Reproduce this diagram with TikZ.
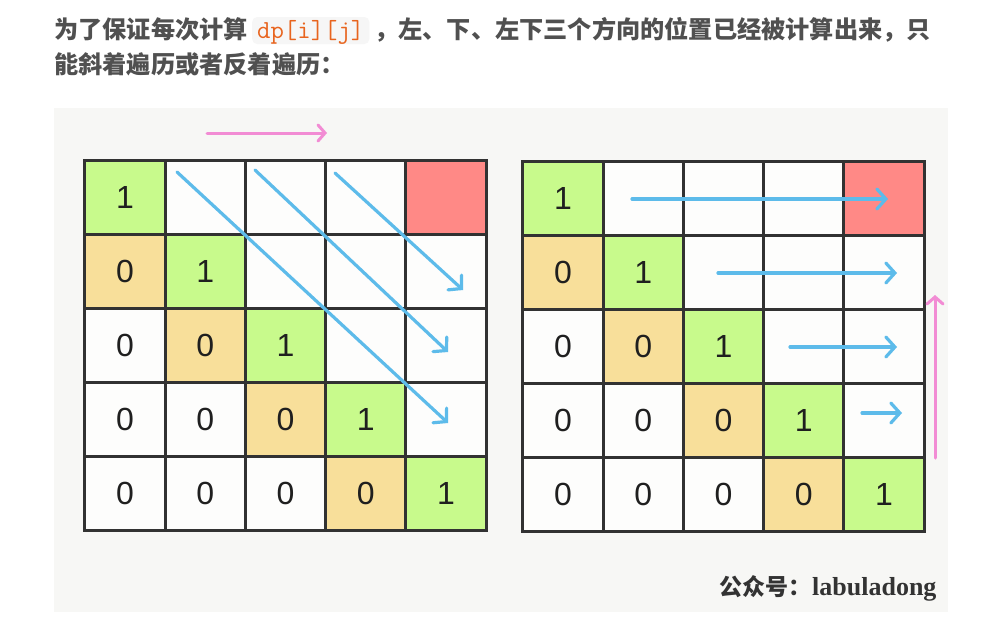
\documentclass[tikz,border=0pt]{standalone}
\usepackage{fontspec}
\setmainfont{Liberation Sans}
\newfontfamily\cjk{Noto Sans CJK SC}
\newfontfamily\serifb{Liberation Serif}
\usetikzlibrary{arrows.meta}
\definecolor{cgreen}{RGB}{200,250,140}
\definecolor{corange}{RGB}{248,223,154}
\definecolor{cred}{RGB}{255,137,134}
\definecolor{cblue}{RGB}{93,187,234}
\definecolor{cpink}{RGB}{242,140,212}
\definecolor{cbg}{RGB}{247,247,245}
\definecolor{cgrid}{RGB}{50,50,50}
\definecolor{ctext}{RGB}{80,80,80}
\definecolor{ccode}{RGB}{232,100,30}
\definecolor{ccodebg}{RGB}{246,246,246}
\definecolor{cwhite}{RGB}{253,253,252}
\tikzset{
  cell/.style={rectangle, minimum width=80.2pt, minimum height=73.8pt, inner sep=0pt,
    font=\fontsize{32}{32}\selectfont, text=black!88},
  gridline/.style={draw=cgrid, line width=2.8pt},
  bluearrow/.style={draw=cblue, line width=3.2pt, line cap=round,
    -{Straight Barb[length=9pt,width=20pt,line cap=round]}},
  pinkarrow/.style={draw=cpink, line width=3pt, line cap=round,
    -{Straight Barb[length=7pt,width=16pt,line cap=round]}},
  toptext/.style={font=\cjk\bfseries\fontsize{24.2}{25}\selectfont, text=ctext, inner sep=0pt},
  codebox/.style={fill=ccodebg, rounded corners=5pt, text=ccode, inner xsep=5pt, inner ysep=2pt,
    text height=19pt, text depth=4pt, font=\ttfamily\fontsize{26}{26}\selectfont}
}
\newcommand\mygrid[3]{%
  \foreach \r in {0,...,4}{%
    \foreach \c in {0,...,4}{%
      \pgfmathtruncatemacro\d{\r-\c}%
      \ifnum\d=0 \def\cf{cgreen}\def\tx{1}\else
        \ifnum\d=1 \def\cf{corange}\def\tx{0}\else
          \ifnum\d>1 \def\cf{cwhite}\def\tx{0}\else
            \def\cf{cwhite}\def\tx{}\fi\fi\fi
      \ifnum\r=0 \ifnum\c=4 \def\cf{cred}\fi\fi
      \node[cell, fill=\cf] (#1-\r-\c) at ({#2+(\c+0.5)*80.2},{#3+(\r+0.5)*73.8}) {\tx};
    }%
  }%
  \foreach \r in {0,...,4}{%
    \foreach \c in {0,...,4}{%
      \draw[gridline] (#1-\r-\c.north west) rectangle (#1-\r-\c.south east);
    }%
  }%
}
\begin{document}
\begin{tikzpicture}[x=1pt,y=-1pt]
\useasboundingbox (0,0) rectangle (993,627);
\fill[white] (0,0) rectangle (993,627);
% header text
\node[toptext, anchor=base west] (t1) at (54,38) {为了保证每次计算};
\node[codebox, anchor=base west] (code) at (252,38) {dp[i][j]};
\node[toptext, anchor=base west] (t2) at (374,38) {，左、下、左下三个方向的位置已经被计算出来，只};
\node[toptext, anchor=base west] (t3) at (54,73) {能斜着遍历或者反着遍历：};
% picture background
\fill[cbg] (54,108) rectangle (948,612);
% grids
\mygrid{L}{85}{161}
\mygrid{R}{523}{162}
% left arrows
\coordinate (pa1) at (207,133);
\coordinate (pa2) at (327,133);
\draw[pinkarrow] (pa1) -- (pa2);
\coordinate (d1s) at (177,172); \coordinate (d1e) at (448,423);
\coordinate (d2s) at (255,170); \coordinate (d2e) at (448,352);
\coordinate (d3s) at (335,173); \coordinate (d3e) at (463,290);
\draw[bluearrow] (d1s) -- (d1e);
\draw[bluearrow] (d2s) -- (d2e);
\draw[bluearrow] (d3s) -- (d3e);
% right arrows
\coordinate (h1s) at (632,199); \coordinate (h1e) at (888,199);
\coordinate (h2s) at (718,273); \coordinate (h2e) at (897,273);
\coordinate (h3s) at (790,347); \coordinate (h3e) at (897,347);
\coordinate (h4s) at (862,413); \coordinate (h4e) at (902,413);
\draw[bluearrow] (h1s) -- (h1e);
\draw[bluearrow] (h2s) -- (h2e);
\draw[bluearrow] (h3s) -- (h3e);
\draw[bluearrow] (h4s) -- (h4e);
\coordinate (pv1) at (935,458);
\coordinate (pv2) at (935,295);
\draw[pinkarrow] (pv1) -- (pv2);
% watermark
\node[anchor=base west, inner sep=0pt, font=\cjk\bfseries\fontsize{23}{23}\selectfont, text=black!80] (wm1) at (719,595) {公众号：};
\node[anchor=base west, inner sep=0pt, font=\serifb\bfseries\fontsize{26}{26}\selectfont, text=black!80] (wm2) at (812,595) {labuladong};
\end{tikzpicture}
\end{document}
